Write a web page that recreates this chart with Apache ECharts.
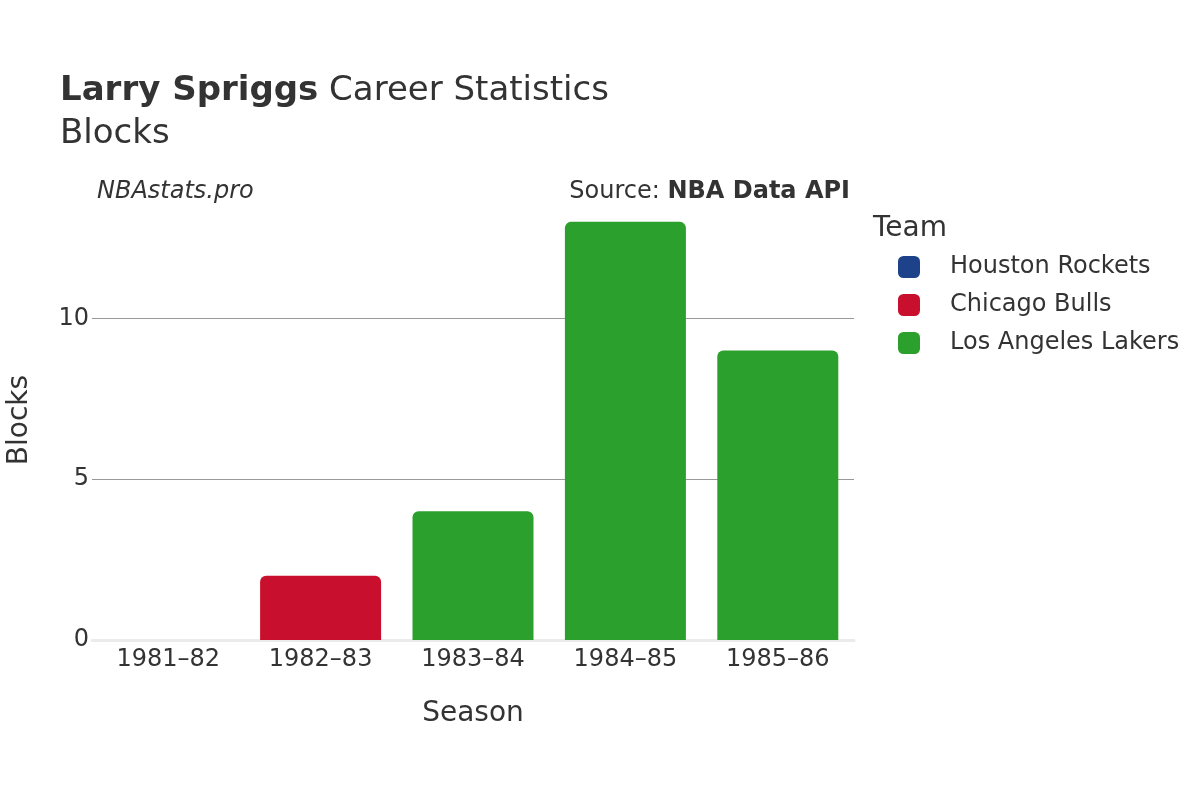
<!DOCTYPE html>
<html>
<head>
<meta charset="utf-8">
<script src="https://cdn.jsdelivr.net/npm/echarts@6/dist/echarts.min.js"></script>
<style>html,body{margin:0;padding:0;background:#fff}#c{width:1200px;height:800px}</style>
</head>
<body>
<div id="c"></div>
<script>
const seasons = ['1981–82', '1982–83', '1983–84', '1984–85', '1985–86'];
const houstonRockets = [0, null, null, null, null];
const chicagoBulls = [null, 2, null, null, null];
const losAngelesLakers = [null, null, 4, 13, 9];
const yTicks = [0, 5, 10];

const FONT = '"DejaVu Sans", "Noto Sans", sans-serif';
const TXT = '#333';
const chart = echarts.init(document.getElementById('c'), null, {renderer: 'canvas'});
function bar(name, data, color) {
  return {
    name: name, type: 'bar', stack: 'all', data: data, barWidth: 121,
    itemStyle: {color: color, borderRadius: [6, 6, 0, 0]},
    emphasis: {disabled: true}
  };
}
chart.setOption({
  animation: false,
  textStyle: {fontFamily: FONT},
  grid: {left: 92, right: 346, top: 200, bottom: 160, containLabel: false, outerBoundsMode: 'none'},
  xAxis: {
    type: 'category', data: seasons,
    axisLine: {show: true, lineStyle: {color: '#ebebeb', width: 3}},
    axisTick: {show: false},
    axisLabel: {color: TXT, fontSize: 24, margin: 8, fontFamily: FONT},
    name: 'Season', nameLocation: 'middle', nameGap: 60,
    nameTextStyle: {color: TXT, fontSize: 28, fontFamily: FONT}
  },
  yAxis: {
    type: 'value', min: 0, max: 13.68, interval: 5,
    axisLine: {show: false}, axisTick: {show: false},
    axisLabel: {color: TXT, fontSize: 24, margin: 3, fontFamily: FONT,
      formatter: v => (yTicks.indexOf(v) >= 0 ? String(v) : '')},
    splitLine: {show: true, lineStyle: {color: ['transparent', '#999', '#999', 'transparent'], width: 1}},
    name: 'Blocks', nameLocation: 'middle', nameGap: 58,
    nameTextStyle: {color: TXT, fontSize: 28, fontFamily: FONT}
  },
  legend: {
    orient: 'vertical', left: 898, top: 255, padding: 0,
    itemWidth: 22, itemHeight: 22, itemGap: 14, icon: 'roundRect',
    textStyle: {color: TXT, fontSize: 24, padding: [0, 0, 0, 25], fontFamily: FONT},
    data: ['Houston Rockets', 'Chicago Bulls', 'Los Angeles Lakers'],
    selectedMode: false
  },
  graphic: [
    {type: 'text', left: 60, top: 74, style: {text: '{b|Larry Spriggs} Career Statistics', fill: TXT,
      font: '34px ' + FONT, rich: {b: {fontWeight: 'bold', fontSize: 34, fill: TXT, fontFamily: FONT}}}},
    {type: 'text', left: 60, top: 117, style: {text: 'Blocks', fill: TXT, font: '34px ' + FONT}},
    {type: 'text', left: 97, top: 180, style: {text: 'NBAstats.pro', fill: TXT, font: 'italic 24px ' + FONT}},
    {type: 'text', right: 350, top: 180, style: {text: 'Source: {b|NBA Data API}', fill: TXT,
      font: '24px ' + FONT, rich: {b: {fontWeight: 'bold', fontSize: 24, fill: TXT, fontFamily: FONT}}}},
    {type: 'text', left: 873, top: 215, style: {text: 'Team', fill: TXT, font: '28px ' + FONT}}
  ],
  series: [
    bar('Houston Rockets', houstonRockets, '#1d428a'),
    bar('Chicago Bulls', chicagoBulls, '#c8102e'),
    bar('Los Angeles Lakers', losAngelesLakers, '#2ca02c')
  ]
});
</script>
</body>
</html>
